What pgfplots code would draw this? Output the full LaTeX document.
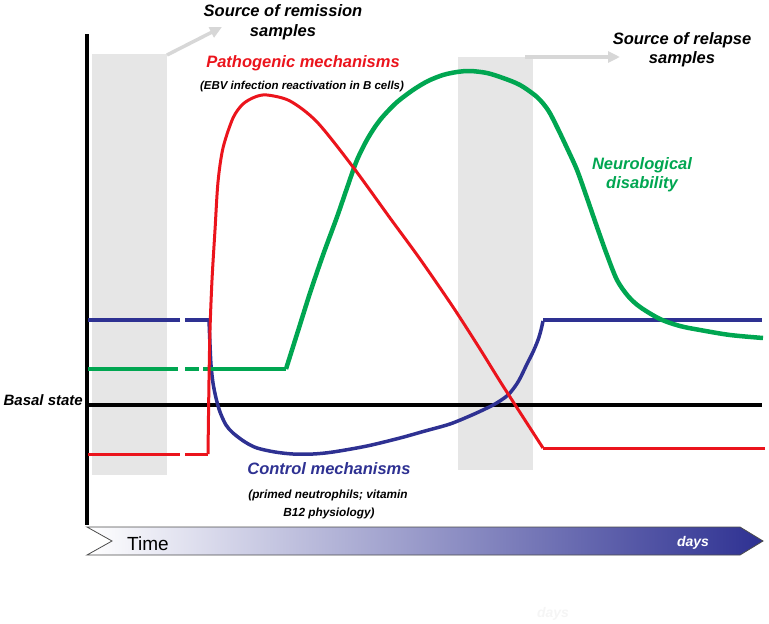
\documentclass[border=0pt]{standalone}
\usepackage{pgfplots}
\pgfplotsset{compat=1.18}
\usetikzlibrary{arrows.meta}
\usepackage{fontspec}
\setmainfont{Liberation Sans}

\definecolor{pathred}{RGB}{235,20,28}
\definecolor{neurogreen}{RGB}{0,166,81}
\definecolor{ctrlblue}{RGB}{46,49,146}
\definecolor{boxgray}{RGB}{230,230,230}
\definecolor{arrowgray}{RGB}{215,215,215}

\newcommand{\lab}[1]{\fontsize{#1}{#1}\selectfont\bfseries\itshape}

\begin{document}
\begin{tikzpicture}
\begin{axis}[
  scale only axis,
  width=769pt, height=624pt,
  xmin=0, xmax=769, ymin=0, ymax=624,
  y dir=reverse,
  hide axis,
  clip=false,
]
% frame for the page size
\addplot[draw=none] coordinates {(0,0) (769,624)};

% sample windows
\addplot[fill=boxgray, draw=none] coordinates {(92,54) (167,54) (167,475) (92,475)} --cycle;
\addplot[fill=boxgray, draw=none] coordinates {(458,57) (533,57) (533,470) (458,470)} --cycle;

% grey arrows
\addplot[arrowgray, line width=3.5pt, -{Triangle[length=12pt,width=11pt]}] coordinates {(167,55) (222,27)};
\addplot[arrowgray, line width=3.5pt, -{Triangle[length=12pt,width=11pt]}] coordinates {(525,57) (620,57)};

% time arrow
\addplot[draw=black!70, line width=0.8pt, left color=white, right color=ctrlblue]
  coordinates {(87,527) (740,527) (763,541) (740,555) (87,555) (112,541)} --cycle;

% vertical axis and basal state
\addplot[black, line width=3.5pt] coordinates {(87,34) (87,525)};
\addplot[black, line width=3.2pt] coordinates {(88,405) (762,405)};

% control mechanisms (blue)
\addplot[ctrlblue, line width=3.5pt] coordinates {(88,320) (180,320)};
\addplot[ctrlblue, line width=3.5pt] coordinates {(185,320) (209,320)};
\addplot[ctrlblue, line width=3.5pt, smooth, tension=0.5] coordinates {
  (209,320) (210,345) (211,365) (213,383) (216,398) (220,412) (226,425)
  (233,433) (245,442) (257,448) (275,452) (293,454) (313,454) (333,452)
  (367,446) (400,438) (425,431) (450,424) (472,415) (485,409) (495,404)
  (508,395) (518,382) (527,364) (533,352) (538,340) (541,330) (543,321)};
\addplot[ctrlblue, line width=3.5pt] coordinates {(543,320) (762,320)};

% neurological disability (green)
\addplot[neurogreen, line width=4.5pt] coordinates {(88,369) (178,369)};
\addplot[neurogreen, line width=4.5pt] coordinates {(185,369) (199,369)};
\addplot[neurogreen, line width=4.5pt] coordinates {(203,369) (286,369)};
\addplot[neurogreen, line width=4.5pt, smooth, tension=0.5] coordinates {
  (286,369) (298,331) (310,293) (323,255) (337,217) (347,188) (357,160)
  (368,138) (380,120) (396,103) (413,90) (428,81) (443,75) (457,72)
  (470,71) (487,73) (503,78) (520,85) (537,97) (548,110) (557,127)
  (567,148) (577,170) (587,198) (597,227) (607,255) (617,280) (628,296)
  (640,307) (660,319) (680,326) (700,330) (730,335) (763,338)};

% pathogenic mechanisms (red)
\addplot[pathred, line width=3pt] coordinates {(88,454) (180,454)};
\addplot[pathred, line width=3pt] coordinates {(185,454) (208,454)};
\addplot[pathred, line width=3pt, smooth, tension=0.5] coordinates {
  (208,454) (209,380) (210,330) (212,280) (215,230) (218,182) (223,148)
  (233,118) (243,104) (255,97) (267,95) (290,101) (317,122) (353,167)
  (390,218) (420,259) (453,307) (480,349) (503,386) (543,448)};
\addplot[pathred, line width=3pt] coordinates {(543,448) (765,448)};

% texts
\node[anchor=base, font=\lab{16.5}] at (axis cs:283,16) {Source of remission};
\node[anchor=base, font=\lab{16.5}] at (axis cs:283,36) {samples};
\node[anchor=base, font=\lab{16.5}, text=pathred] at (axis cs:303,67) {Pathogenic mechanisms};
\node[anchor=base, font=\lab{11.5}] at (axis cs:302,89) {(EBV infection reactivation in B cells)};
\node[anchor=base, font=\lab{16.5}] at (axis cs:682,44) {Source of relapse};
\node[anchor=base, font=\lab{16.5}] at (axis cs:682,63) {samples};
\node[anchor=base, font=\lab{16.5}, text=neurogreen] at (axis cs:642,169) {Neurological};
\node[anchor=base, font=\lab{16.5}, text=neurogreen] at (axis cs:642,188) {disability};
\node[anchor=base east, font=\lab{15}, inner xsep=0pt] at (axis cs:83,405) {Basal state};
\node[anchor=base, font=\lab{16.5}, text=ctrlblue] at (axis cs:329,474) {Control mechanisms};
\node[anchor=base, font=\lab{11.8}] at (axis cs:328,498) {(primed neutrophils; vitamin};
\node[anchor=base, font=\lab{11.8}] at (axis cs:329,516) {B12 physiology)};
\node[anchor=base west, font=\fontsize{19}{19}\selectfont, inner xsep=0pt] at (axis cs:127,550) {Time};
\node[anchor=base, font=\lab{14}, text=white] at (axis cs:693,546) {days};
\node[anchor=base, font=\lab{14}, text=black!4] at (axis cs:553,617) {days};
\end{axis}
\end{tikzpicture}
\end{document}
